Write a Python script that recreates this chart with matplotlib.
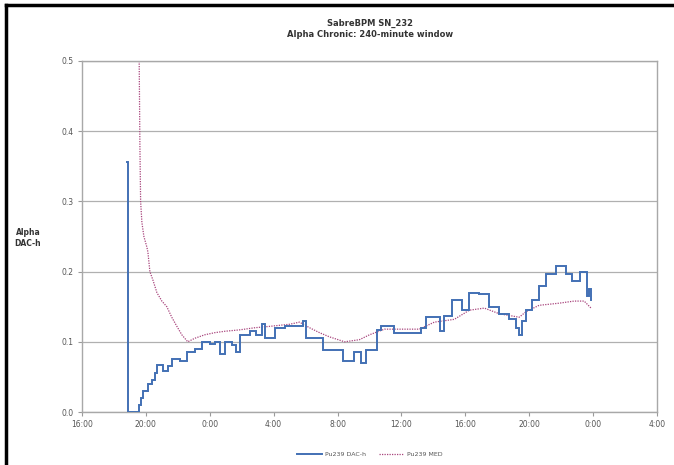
import matplotlib
matplotlib.use("Agg")
import matplotlib.pyplot as plt
from matplotlib.lines import Line2D

# hours elapsed since 16:00 on day 1
blue_hours = [2.79, 2.85, 3.56, 3.69, 3.81, 4.12, 4.37, 4.56, 4.69, 5.06, 5.37, 5.62,
              6.12, 6.56, 7.06, 7.50, 8.00, 8.31, 8.62, 8.94, 9.37, 9.62, 9.87, 10.50,
              10.87, 11.25, 11.44, 12.06, 12.69, 13.81, 14.00, 15.06, 16.31, 17.06,
              17.44, 17.75, 18.50, 18.69, 19.56, 21.25, 21.56, 22.44, 22.69, 23.19,
              23.81, 24.25, 24.87, 25.50, 26.12, 26.75, 27.19, 27.37, 27.56, 27.81,
              28.19, 28.62, 29.06, 29.69, 30.31, 30.69, 31.19, 31.62, 31.75, 31.87]
blue_values = [0.356, 0.0, 0.01, 0.02, 0.03, 0.04, 0.045, 0.055, 0.067, 0.058, 0.065, 0.075,
               0.072, 0.085, 0.09, 0.10, 0.097, 0.10, 0.083, 0.10, 0.095, 0.085, 0.11, 0.115,
               0.11, 0.125, 0.105, 0.12, 0.122, 0.13, 0.105, 0.088, 0.072, 0.085,
               0.07, 0.088, 0.117, 0.122, 0.112, 0.12, 0.135, 0.115, 0.137, 0.16,
               0.145, 0.17, 0.168, 0.15, 0.14, 0.132, 0.12, 0.11, 0.13, 0.145,
               0.16, 0.18, 0.197, 0.208, 0.197, 0.187, 0.20, 0.165, 0.175, 0.16]

pink_hours = [3.58, 3.625, 3.67, 3.75, 3.875, 4.06, 4.125, 4.25, 4.44, 4.69, 5.0, 5.31,
              5.62, 5.94, 6.25, 6.62, 7.06, 7.69, 8.31, 8.94, 9.87, 10.81, 11.75, 13.0,
              13.62, 14.25, 14.87, 15.5, 16.44, 17.37, 18.0, 18.94, 21.12, 22.06, 23.31,
              24.25, 25.19, 26.12, 27.37, 27.81, 28.62, 29.87, 30.81, 31.44, 31.87]
pink_values = [0.50, 0.38, 0.30, 0.27, 0.25, 0.235, 0.228, 0.20, 0.188, 0.17, 0.158, 0.15,
               0.135, 0.122, 0.11, 0.10, 0.105, 0.11, 0.113, 0.115, 0.117, 0.12, 0.122, 0.125,
               0.128, 0.12, 0.113, 0.107, 0.10, 0.103, 0.11, 0.118, 0.118, 0.128, 0.132,
               0.145, 0.148, 0.14, 0.135, 0.143, 0.152, 0.155, 0.158, 0.158, 0.148]

xtick_hours = [0, 4, 8, 12, 16, 20, 24, 28, 32, 36]
xtick_labels = ["16:00", "20:00", "0:00", "4:00", "8:00", "12:00", "16:00", "20:00", "0:00", "4:00"]
ytick_values = [0.0, 0.1, 0.2, 0.3, 0.4, 0.5]

series_names = ["Pu239 DAC-h", "Pu239 MED"]
title_text = "SabreBPM SN_232\nAlpha Chronic: 240-minute window"
ylabel_text = "Alpha\nDAC-h"

W, H = 674, 465
fig = plt.figure(figsize=(W / 100, H / 100), dpi=100)
fig.patch.set_facecolor("white")

ax = fig.add_axes([82 / W, (H - 412) / H, (657 - 82) / W, (412 - 61) / H])

blue = "#4270b4"
pink = "#a8447c"
ax.plot(blue_hours, blue_values, drawstyle="steps-post", color=blue, lw=1.4,
        solid_joinstyle="miter", zorder=3)
ax.plot(pink_hours, pink_values, color=pink, lw=0.9, linestyle=(0, (1, 1)), zorder=2)

ax.set_xlim(0, 36)
ax.set_ylim(0, 0.5)
ax.set_xticks(xtick_hours)
ax.set_xticklabels(xtick_labels)
ax.set_yticks(ytick_values)
ax.set_yticklabels([f"{v:.1f}" for v in ytick_values])
ax.tick_params(axis="both", labelsize=5.5, colors="#9a9a9a", length=3, width=0.8,
               labelcolor="#555555", pad=3)
ax.grid(axis="y", color="#b0b0b0", lw=0.9)
ax.set_axisbelow(True)
for s in ax.spines.values():
    s.set_color("#a8a8a8")
    s.set_linewidth(1.0)

fig.text(370 / W, 1 - 29 / H, title_text, ha="center", va="center",
         fontsize=6, fontweight="bold", color="#333333", linespacing=1.3)
fig.text(28 / W, 1 - 238 / H, ylabel_text, ha="center", va="center",
         fontsize=5.5, fontweight="bold", color="#333333", linespacing=1.2)

handles = [Line2D([], [], color=blue, lw=1.4),
           Line2D([], [], color=pink, lw=0.9, linestyle=(0, (1, 1)))]
fig.legend(handles, series_names, loc="center", bbox_to_anchor=(370 / W, 1 - 454 / H),
           ncol=2, frameon=False, fontsize=4.5, handlelength=4, columnspacing=2,
           handletextpad=0.5, labelcolor="#555555")

# outer frame (left and top edges visible)
fig.add_artist(Line2D([5.5 / W, 5.5 / W], [0, 1 - 5.5 / H], transform=fig.transFigure,
                      color="black", lw=2.5))
fig.add_artist(Line2D([5.5 / W, 1], [1 - 5.5 / H, 1 - 5.5 / H], transform=fig.transFigure,
                      color="black", lw=2.5))

fig.savefig("out.png", dpi=100, facecolor="white")
